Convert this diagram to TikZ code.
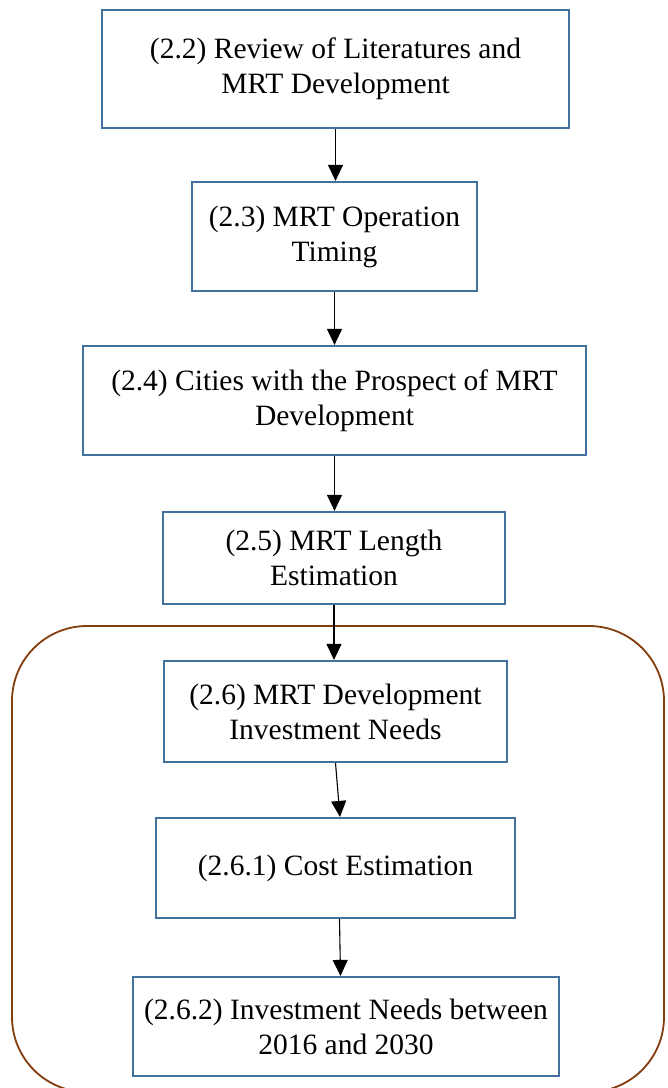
\documentclass[tikz,border=0pt]{standalone}
\usepackage{fontspec}
\setmainfont{Liberation Serif}
\usetikzlibrary{arrows.meta}

\definecolor{boxblue}{RGB}{65,113,156}
\definecolor{groupbrown}{RGB}{132,60,12}

\begin{document}
\begin{tikzpicture}[x=1pt,y=-1pt,
  stage/.style={draw=boxblue,line width=2.2pt,fill=white,align=center,
    inner sep=0pt,font=\fontsize{29.5}{35}\selectfont},
  flow/.style={-{Triangle[length=16pt,width=15pt]},line width=1.1pt}]
  \def\pagew{668}
  \def\pageh{1088}

  \useasboundingbox (0,0) rectangle (\pagew,\pageh);
  \clip (0,0) rectangle (\pagew,\pageh);

  % group frame round the investment part
  \draw[groupbrown,line width=1.8pt,rounded corners=75pt]
      (12,626) rectangle (664,1092);

  \node[stage,minimum width=467pt,minimum height=118pt] (review) at (335.5,69)
      {(2.2) Review of Literatures and\\MRT Development};
  \node[stage,minimum width=285pt,minimum height=109pt] (timing) at (334.5,236.5)
      {(2.3) MRT Operation\\Timing};
  \node[stage,minimum width=503pt,minimum height=109pt] (cities) at (334.5,400.5)
      {(2.4) Cities with the Prospect of MRT\\Development};
  \node[stage,minimum width=342pt,minimum height=92pt] (length) at (334,558)
      {(2.5) MRT Length\\Estimation};
  \node[stage,minimum width=343pt,minimum height=101pt] (invest) at (335.5,711.5)
      {(2.6) MRT Development\\Investment Needs};
  \node[stage,minimum width=359pt,minimum height=100pt] (cost) at (335.5,868)
      {(2.6.1) Cost Estimation};
  \node[stage,minimum width=426pt,minimum height=99pt] (needs) at (346,1026.5)
      {(2.6.2) Investment Needs between\\2016 and 2030};

  \draw[flow] (review.south) -- (review.south |- timing.north);
  \draw[flow] (timing.south) -- (timing.south |- cities.north);
  \draw[flow] (cities.south) -- (cities.south |- length.north);
  \draw[flow] (length.south) -- (length.south |- invest.north);
  \draw[flow] (invest.south) -- ([xshift=4.5pt]invest.south |- cost.north);
  \draw[flow] ([xshift=4pt]cost.south) -- ([xshift=5pt]cost.south |- needs.north);
\end{tikzpicture}
\end{document}
